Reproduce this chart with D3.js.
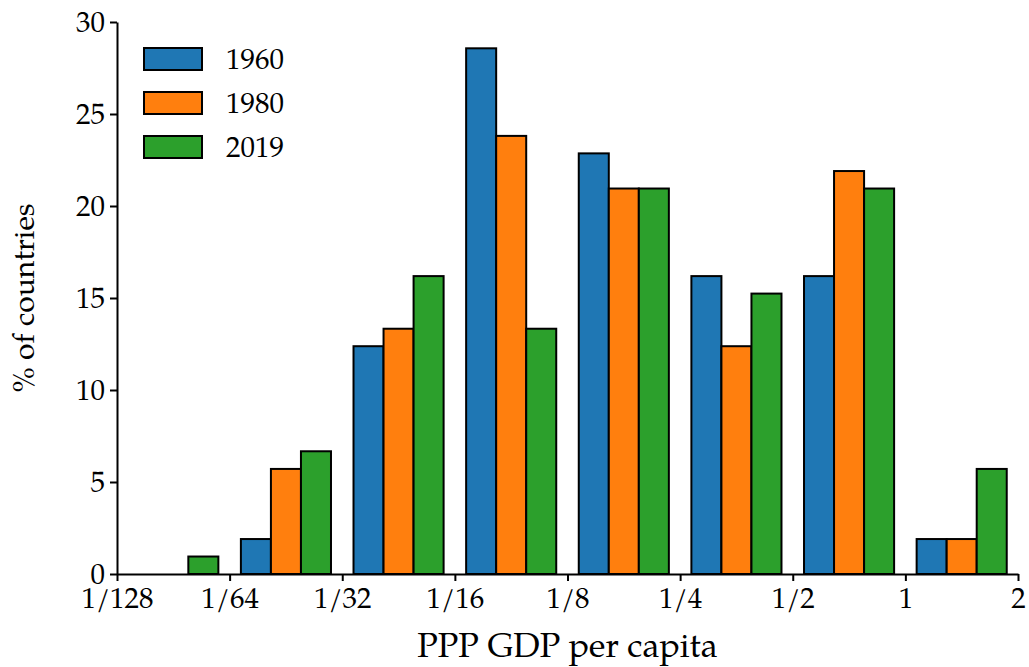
<!DOCTYPE html>
<html><head><meta charset="utf-8">
<script src="https://cdn.jsdelivr.net/npm/d3@7"></script>
<style>body{margin:0;background:#fff}svg{display:block}</style>
</head><body>
<script>
// data
const binEdges = [-7,-6,-5,-4,-3,-2,-1,0,1]; // log2 of bin edges
const tickLabels = ["1/128","1/64","1/32","1/16","1/8","1/4","1/2","1","2"];
const years = ["1960","1980","2019"];
const colors = ["#1f77b4","#ff7f0e","#2ca02c"];
const v1960 = [0, 1.90, 12.38, 28.57, 22.86, 16.19, 16.19, 1.90];
const v1980 = [0, 5.71, 13.33, 23.81, 20.95, 12.38, 21.90, 1.90];
const v2019 = [0.95, 6.67, 16.19, 13.33, 20.95, 15.24, 20.95, 5.71];
const yTicks = [0,5,10,15,20,25,30];
const series = [v1960, v1980, v2019];

const W = 1029, H = 667;
const FONT = "'TeX Gyre Pagella','Palatino Linotype','URW Palladio L',Palatino,'DejaVu Serif',serif";
const svg = d3.select("body").append("svg").attr("width",W).attr("height",H)
  .style("font-family",FONT);

const x = d3.scaleLinear().domain([-7,1]).range([117,1018]);
const y = d3.scaleLinear().domain([0,30]).range([574,22]);

const bw = 0.8/3;
const g = svg.append("g");
series.forEach((vals,si)=>{
  g.selectAll(null).data(vals).enter().append("rect")
    .attr("x",(d,i)=>x(binEdges[i]+0.1+si*bw))
    .attr("width",(d,i)=>x(binEdges[i]+0.1+(si+1)*bw)-x(binEdges[i]+0.1+si*bw))
    .attr("y",d=>y(d))
    .attr("height",d=>y(0)-y(d))
    .attr("fill",colors[si])
    .attr("stroke","#000").attr("stroke-width",2);
});

// axes
const xAxis = d3.axisBottom(x).tickValues(binEdges).tickFormat((d,i)=>tickLabels[i]).tickSize(7).tickSizeOuter(0);
const yAxis = d3.axisLeft(y).tickValues(yTicks).tickSize(7).tickSizeOuter(0);
const gx = svg.append("g").attr("transform",`translate(0,${y(0)})`).call(xAxis);
const gy = svg.append("g").attr("transform",`translate(${x(-7)},0)`).call(yAxis);
[gx,gy].forEach(a=>{
  a.selectAll("path,line").attr("stroke","#000").attr("stroke-width",2);
  a.selectAll("text").attr("fill","#000").style("font-family",FONT).style("font-size","29px");
});
gx.selectAll("text").attr("dy","0.9em").attr("y",8);
gy.selectAll("text").attr("x",-12).attr("dy","0.34em");

svg.append("text").attr("x",(x(-7)+x(1))/2).attr("y",657).attr("text-anchor","middle")
  .style("font-size","34px").text("PPP GDP per capita");
svg.append("text").attr("transform",`translate(34,${y(15)}) rotate(-90)`).attr("text-anchor","middle")
  .style("font-size","30px").text("% of countries");

// legend
const leg = svg.append("g");
years.forEach((yr,i)=>{
  const yy = 48 + i*44;
  leg.append("rect").attr("x",144).attr("y",yy).attr("width",58).attr("height",22)
    .attr("fill",colors[i]).attr("stroke","#000").attr("stroke-width",2);
  leg.append("text").attr("x",226).attr("y",yy+21).style("font-size","29px").text(yr);
});
</script>
</body></html>
